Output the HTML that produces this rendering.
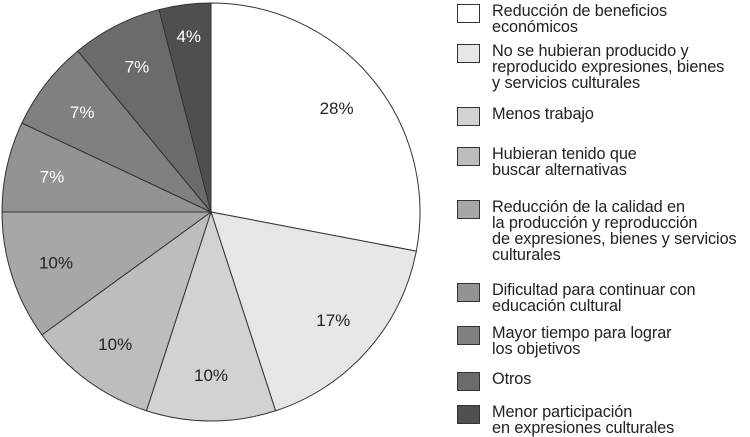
<!DOCTYPE html>
<html><head><meta charset="utf-8"><style>
body{margin:0;background:#fff;width:750px;height:437px;overflow:hidden;font-family:"Liberation Sans",sans-serif}
.leg{position:absolute;left:457px;width:23px;height:19px;border:1px solid #333;box-sizing:border-box}
.lt{position:absolute;left:492px;font-size:16.3px;line-height:16px;color:#222;white-space:nowrap;letter-spacing:-0.1px}
</style></head><body>
<svg id="chart" width="750" height="437" style="position:absolute;left:0;top:0"></svg>
<div id="legend"></div>
<script>
const categories=["Reducción de beneficios<br>económicos","No se hubieran producido y<br>reproducido expresiones, bienes<br>y servicios culturales","Menos trabajo","Hubieran tenido que<br>buscar alternativas","Reducción de la calidad en<br>la producción y reproducción<br>de expresiones, bienes y servicios<br>culturales","Dificultad para continuar con<br>educación cultural","Mayor tiempo para lograr<br>los objetivos","Otros","Menor participación<br>en expresiones culturales"];
const values=[28,17,10,10,10,7,7,7,4];
const colors=["#ffffff","#e6e6e6","#d2d2d2","#bdbdbd","#a7a7a7","#939393","#808080","#6b6b6b","#4f4f4f"];
const legendTops=[4,44,107,147,200,283,326,372,405];
const ns="http://www.w3.org/2000/svg",svg=document.getElementById("chart");
const cx=211,cy=212,r=209;
const total=values.reduce((a,b)=>a+b,0);
let a0=0;
values.forEach((v,i)=>{
  const a1=a0+v/total*2*Math.PI;
  const p=a=>[cx+r*Math.sin(a),cy-r*Math.cos(a)];
  const [x0,y0]=p(a0),[x1,y1]=p(a1);
  const path=document.createElementNS(ns,"path");
  path.setAttribute("d",`M${cx},${cy}L${x0},${y0}A${r},${r} 0 ${a1-a0>Math.PI?1:0} 1 ${x1},${y1}Z`);
  path.setAttribute("fill",colors[i]);path.setAttribute("stroke","#333");path.setAttribute("stroke-width","1");
  
  
  svg.appendChild(path);
  const am=(a0+a1)/2,lr=r*(v<5?0.85:0.78);
  const t=document.createElementNS(ns,"text");
  t.setAttribute("x",cx+lr*Math.sin(am));t.setAttribute("y",cy-lr*Math.cos(am)+6);
  t.setAttribute("text-anchor","middle");t.setAttribute("font-size","17");
  t.setAttribute("fill",i>=5?"#fff":"#222");
  
  
  t.textContent=v+"%";svg.appendChild(t);
  a0=a1;
});
const lg=document.getElementById("legend");
categories.forEach((c,i)=>{
  const b=document.createElement("div");b.className="leg";b.style.top=legendTops[i]+"px";b.style.background=colors[i];
  
  
  lg.appendChild(b);
  const t=document.createElement("div");t.className="lt";t.style.top=(legendTops[i]-1)+"px";t.innerHTML=c;
  
  
  lg.appendChild(t);
});
</script>
</body></html>
